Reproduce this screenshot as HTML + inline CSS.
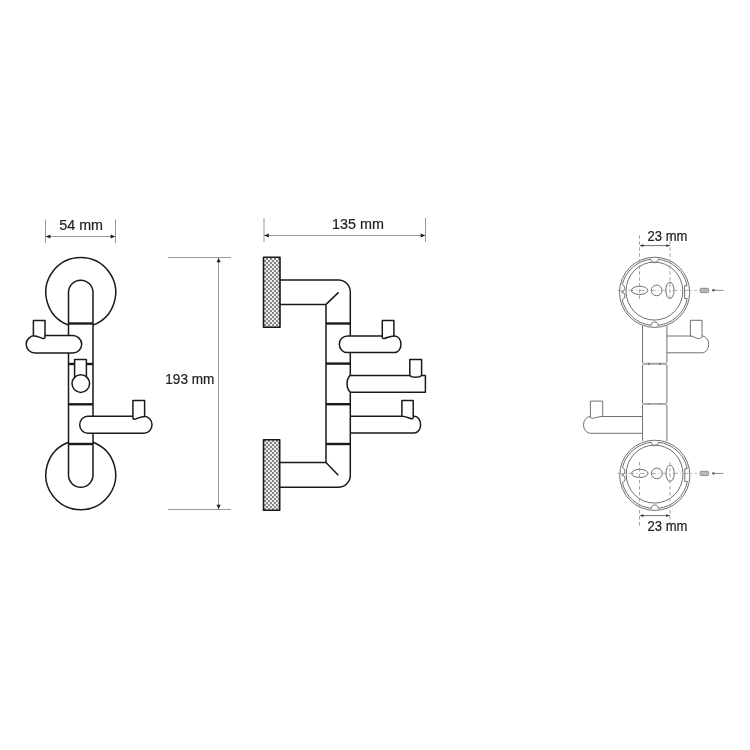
<!DOCTYPE html>
<html><head><meta charset="utf-8">
<style>
html,body{margin:0;padding:0;background:#fff;width:750px;height:750px;overflow:hidden}
svg{display:block;will-change:transform}
text{font-family:"Liberation Sans",sans-serif;fill:#222;stroke:#222;stroke-width:0.2}
</style></head><body>
<svg width="750" height="750" viewBox="0 0 750 750">
<defs>
<pattern id="hatch" width="4" height="4" patternUnits="userSpaceOnUse">
<rect width="4" height="4" fill="#ececec"/>
<rect width="2" height="2" fill="#868686"/>
<rect x="2" y="2" width="2" height="2" fill="#868686"/>
</pattern>
</defs>
<rect width="750" height="750" fill="#fff"/>

<!-- ===== dimension lines ===== -->
<g stroke="#999" stroke-width="1" fill="none">
<line x1="45.5" y1="219.5" x2="45.5" y2="243"/>
<line x1="115.5" y1="219.5" x2="115.5" y2="243"/>
<line x1="46" y1="236.5" x2="115" y2="236.5"/>
<line x1="264" y1="218" x2="264" y2="242"/>
<line x1="425.5" y1="218" x2="425.5" y2="242"/>
<line x1="264" y1="235.5" x2="425" y2="235.5"/>
<line x1="168" y1="257.5" x2="231" y2="257.5"/>
<line x1="168" y1="509.5" x2="231" y2="509.5"/>
<line x1="218.5" y1="258" x2="218.5" y2="509"/>
</g>
<g fill="#1e1e1e">
<path d="M45.8,236.5 L50.4,234.6 L50.4,238.4Z"/>
<path d="M115.2,236.5 L110.6,234.6 L110.6,238.4Z"/>
<path d="M264.2,235.5 L268.8,233.6 L268.8,237.4Z"/>
<path d="M425.3,235.5 L420.7,233.6 L420.7,237.4Z"/>
<path d="M218.6,258 L216.5,262.3 L220.7,262.3Z"/>
<path d="M218.6,509 L216.5,504.7 L220.7,504.7Z"/>
</g>
<text transform="translate(59.3,229.8) scale(1.045,1.1)" font-size="13.7">54 mm</text>
<text transform="translate(332,228.9) scale(1.05,1.1)" font-size="13.7">135 mm</text>
<text transform="translate(165.3,383.5) scale(0.99,1.1)" font-size="13.7">193 mm</text>

<!-- ===== left figure ===== -->
<g stroke="#1a1a1a" stroke-width="1.5" fill="none" stroke-linejoin="round">
<!-- circles (arcs) -->
<path d="M68.5,325.1 A34.9,34.9 0 1 1 93,325.1"/>
<path d="M68.5,442.2 A34.9,34.9 0 1 0 93,442.2"/>
<!-- column -->
<path d="M68.5,475 L68.5,292.4 A12.25,12.25 0 0 1 93,292.4 L93,475 A12.25,12.25 0 0 1 68.5,475Z" fill="#fff"/>
<line x1="68.5" y1="323.5" x2="93" y2="323.5" stroke-width="2.4"/>
<line x1="68.5" y1="364" x2="93" y2="364" stroke-width="2.4"/>
<line x1="68.5" y1="404.3" x2="93" y2="404.3" stroke-width="2.4"/>
<line x1="68.5" y1="444" x2="93" y2="444" stroke-width="2.4"/>
<!-- upper hook -->
<rect x="26.2" y="335.6" width="55.5" height="17.4" rx="9" ry="8.7" fill="#fff"/>
<path d="M33.4,335.7 L33.4,320.4 L45,320.4 L45,337.3 C45,338.5 44,338.7 43,338.5 C40,337.7 37.4,335.7 33.4,335.7Z" fill="#fff"/>
<!-- middle hook -->
<rect x="74.6" y="359.6" width="11.8" height="18" fill="#fff"/>
<circle cx="80.8" cy="383.6" r="8.8" fill="#fff"/>
<!-- lower hook -->
<rect x="79.7" y="416.3" width="72.3" height="17" rx="8" ry="8.5" fill="#fff"/>
<path d="M144.6,416.5 L144.6,400.6 L132.9,400.6 L132.9,417.90000000000003 C132.9,419.1 133.9,419.3 134.9,419.1 C137.9,418.3 140.6,416.5 144.6,416.5Z" fill="#fff"/>
</g>

<!-- ===== middle figure ===== -->
<g stroke="#1a1a1a" stroke-width="1.5" fill="none" stroke-linejoin="round">
<rect x="263.5" y="257.2" width="16.5" height="70" fill="url(#hatch)" stroke-width="1.6"/>
<rect x="263.5" y="439.8" width="16.2" height="70.4" fill="url(#hatch)" stroke-width="1.6"/>
<path d="M280,280 L338.3,280 A12,12 0 0 1 350.3,292 L350.3,475.2 A12,12 0 0 1 338.3,487.2 L280,487.2"/>
<path d="M280,304.4 L326,304.4 L326,462.6 L280,462.6"/>
<line x1="326" y1="304.4" x2="338.6" y2="292.4"/>
<line x1="326" y1="462.6" x2="338.3" y2="475.2"/>
<line x1="326" y1="323.5" x2="350.3" y2="323.5" stroke-width="2.4"/>
<line x1="326" y1="363.6" x2="350.3" y2="363.6" stroke-width="2.4"/>
<line x1="326" y1="404.2" x2="350.3" y2="404.2" stroke-width="2.4"/>
<line x1="326" y1="444" x2="350.3" y2="444" stroke-width="2.4"/>
<!-- hook 1 -->
<path d="M347.5,335.9 L394.6,335.9 A6.4,8.35 0 0 1 394.6,352.6 L347.5,352.6 A8.2,8.35 0 0 1 347.5,335.9Z" fill="#fff"/>
<path d="M393.9,335.9 L393.9,320.4 L382.3,320.4 L382.3,337.3 C382.3,338.5 383.3,338.7 384.3,338.5 C387.3,337.7 389.9,335.9 393.9,335.9Z" fill="#fff"/>
<!-- hook 2 -->
<path d="M350.3,375.4 L425.4,375.4 L425.4,392.2 L350.3,392.2 C346,388.3 346,379.2 350.3,375.4" fill="#fff"/>
<path d="M409.8,375.4 L409.8,359.4 L421.6,359.4 L421.6,375.4 C419.6,378.0 411.8,378.0 409.8,375.4Z" fill="#fff"/>
<!-- hook 3 -->
<path d="M351,416.3 L414.4,416.3 A6.2,8.35 0 0 1 414.4,433 L351,433"/>
<path d="M401.9,416.3 L401.9,400.6 L413.2,400.6 L413.2,417.5 C413.2,418.7 412.2,418.9 411.2,418.7 C408.2,417.9 405.9,416.3 401.9,416.3Z" fill="#fff"/>
</g>

<!-- ===== right figure ===== -->
<defs>
<g id="rc">
<circle cx="0" cy="0" r="35.1" fill="#fff"/>
<!-- second ring with notches -->
<path d="M-3.5,-33 C-3.5,-28.5 3.5,-28.5 3.5,-33 A33.2,33.2 0 0 1 32.5,-6.6 L30,-6.6 L30,6.2 L32.6,6.2 A33.2,33.2 0 0 1 3.5,33 C3.5,28.5 -3.5,28.5 -3.5,33 A33.2,33.2 0 0 1 -32.4,7.3 A3.9,3.9 0 0 0 -33,-0.3 A3.9,3.9 0 0 0 -32.3,-7.7 A33.2,33.2 0 0 1 -3.5,-33Z"/>
<ellipse cx="-0.2" cy="-1.2" rx="28.4" ry="29"/>
<ellipse cx="-15" cy="-1.9" rx="8.2" ry="4.1"/>
<circle cx="2" cy="-1.9" r="5.35"/>
<ellipse cx="15.3" cy="-1.9" rx="4.1" ry="8.1"/>
<line x1="-37" y1="-1.9" x2="42" y2="-1.9" stroke="#999" stroke-width="0.8" stroke-dasharray="5,2.5,1,2.5"/>
</g>
</defs>
<g stroke="#707070" stroke-width="1" fill="none">
<!-- column -->
<path d="M642.5,326 L642.5,362.6 M666.9,326 L666.9,362.6 M642.5,365 L642.5,403 M666.9,365 L666.9,403 M642.5,404.8 L642.5,441 M666.9,404.8 L666.9,441"/>
<line x1="642.5" y1="363.8" x2="666.9" y2="363.8" stroke="#aaa" stroke-width="2.2"/>
<line x1="642.5" y1="403.9" x2="666.9" y2="403.9" stroke="#999" stroke-width="1.6"/>
<!-- hooks -->
<path d="M666.9,336 L702.3,336 A6.4,8.4 0 0 1 702.3,352.8 L666.9,352.8"/>
<path d="M690.4,336 L690.4,320.3 L702,320.3 L702,337 C701,339 698,338.5 697,338.3 C694,337.5 693,336 690.4,336" fill="#fff"/>
<path d="M642.5,416.5 L590.5,416.5 A7,8.4 0 0 0 590.5,433.3 L642.5,433.3"/>
<path d="M590.4,417.5 L590.4,401.1 L602.7,401.1 L602.7,416.5 C598,416.6 594,418.5 592,418.3 C591,418 590.5,417.8 590.4,417.5" fill="#fff"/>
<use href="#rc" x="654.6" y="292.3"/>
<use href="#rc" x="654.8" y="475.3"/>
<!-- dimension -->
<line x1="640" y1="245.6" x2="670" y2="245.6"/>
<line x1="640" y1="515.6" x2="670" y2="515.6"/>
</g>
<g fill="#333">
<path d="M640,245.6 L643.5,244.3 L643.5,246.9Z"/>
<path d="M669.8,245.6 L666.3,244.3 L666.3,246.9Z"/>
<path d="M640,515.6 L643.5,514.3 L643.5,516.9Z"/>
<path d="M669.8,515.6 L666.3,514.3 L666.3,516.9Z"/>
<circle cx="713.5" cy="290.3" r="1.2"/>
<rect x="648.2" y="362.9" width="1.7" height="1.8" opacity="0.55"/><rect x="659.2" y="362.9" width="1.7" height="1.8" opacity="0.55"/>
<rect x="648.3" y="403.2" width="1.5" height="1.4" opacity="0.35"/><rect x="659.3" y="403.2" width="1.5" height="1.4" opacity="0.35"/>
<circle cx="713.5" cy="473.4" r="1.2"/>
</g>
<g stroke="#9a9a9a" stroke-width="0.9" fill="none" stroke-dasharray="3.5,2.5">
<line x1="639.5" y1="235.3" x2="639.5" y2="301"/>
<line x1="670" y1="235.3" x2="670" y2="301"/>
<line x1="639.5" y1="462" x2="639.5" y2="528"/>
<line x1="670" y1="462" x2="670" y2="528"/>
</g>
<g stroke="#888" stroke-width="1">
<line x1="713" y1="290.3" x2="723.5" y2="290.3"/>
<line x1="713" y1="473.4" x2="723.5" y2="473.4"/>
<rect x="700.2" y="288.3" width="8.4" height="4.3" rx="1" fill="#b8b8b8" stroke="#8a8a8a"/>
<rect x="700.2" y="471.3" width="8.4" height="4.3" rx="1" fill="#b8b8b8" stroke="#8a8a8a"/>
</g>
<text transform="translate(647.6,241) scale(0.98,1.08)" font-size="13.3">23 mm</text>
<text transform="translate(647.6,530.5) scale(0.98,1.08)" font-size="13.3">23 mm</text>
</svg>
</body></html>
